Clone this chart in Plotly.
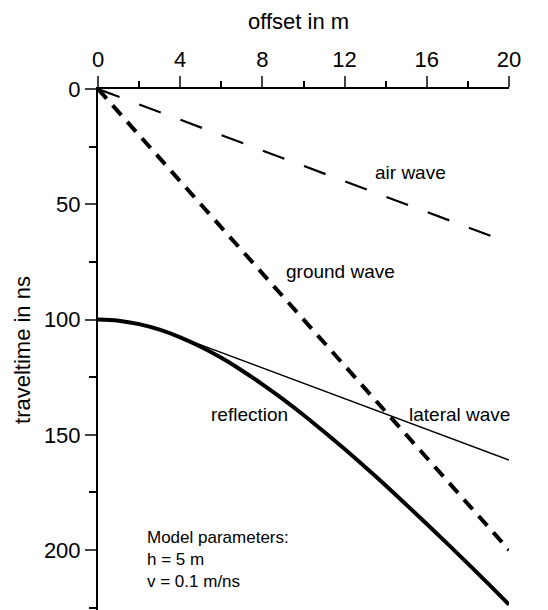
import plotly.graph_objects as go

# Data
air_x = [0, 20]
air_t = [0, 66.7]
ground_x = [0, 20]
ground_t = [0, 200]
refl_x = [0, 1, 2, 3, 4, 5, 6, 7, 8, 9, 10, 11, 12, 13, 14, 15, 16, 17, 18, 19, 20]
refl_t = [100, 100.5, 102.0, 104.4, 107.7, 111.8, 116.6, 122.1, 128.1, 134.5, 141.4,
          148.7, 156.2, 164.0, 172.0, 180.3, 188.7, 197.2, 205.9, 214.7, 223.6]
lat_x = [3.5, 20]
lat_t = [106, 161]

x_ticks = [0, 4, 8, 12, 16, 20]
y_ticks = [0, 50, 100, 150, 200]

FONT = "Liberation Sans, Arial, sans-serif"

fig = go.Figure()
fig.add_trace(go.Scatter(x=air_x, y=air_t, mode="lines",
                         line=dict(color="black", width=2.2, dash="23px,21px")))
fig.add_trace(go.Scatter(x=ground_x, y=ground_t, mode="lines",
                         line=dict(color="black", width=4, dash="13px,9px")))
fig.add_trace(go.Scatter(x=lat_x, y=lat_t, mode="lines",
                         line=dict(color="black", width=1.5)))
fig.add_trace(go.Scatter(x=refl_x, y=refl_t, mode="lines", line_shape="spline",
                         line=dict(color="black", width=4)))

ann = [
    ("air wave", 15.2, 36.3),
    ("ground wave", 11.8, 79),
    ("reflection", 7.35, 141),
    ("lateral wave", 17.6, 141),
]
for txt, x, y in ann:
    fig.add_annotation(x=x, y=y, text=txt, showarrow=False,
                       font=dict(family=FONT, size=19, color="black"))
fig.add_annotation(x=2.3, y=204, text="Model parameters:<br>h = 5 m<br>v = 0.1 m/ns",
                   showarrow=False, xanchor="left", yanchor="middle", align="left",
                   font=dict(family=FONT, size=17, color="black"))

# axis titles
fig.add_annotation(xref="paper", yref="paper", x=0.489, y=1.1286, text="offset in m",
                   showarrow=False, xanchor="center", yanchor="middle",
                   font=dict(family=FONT, size=22, color="black"))
fig.add_annotation(xref="paper", yref="paper", x=-0.185, y=0.499, text="traveltime in ns",
                   showarrow=False, xanchor="center", yanchor="middle", textangle=-90,
                   font=dict(family=FONT, size=22, color="black"))

fig.update_layout(
    width=548, height=610,
    margin=dict(l=90, r=47, t=81, b=8, autoexpand=False),
    paper_bgcolor="white", plot_bgcolor="white",
    showlegend=False,
    font=dict(family=FONT, size=22, color="black"),
    xaxis=dict(range=[0, 20], side="top", tickvals=x_ticks, ticks="outside", ticklen=11,
               tickwidth=2, linecolor="black", linewidth=2, showline=True, showgrid=False,
               zeroline=False, automargin=False,
               minor=dict(tickvals=[2, 6, 10, 14, 18], ticks="outside", ticklen=6,
                          tickwidth=2, tickcolor="black"),
               tickfont=dict(size=22)),
    yaxis=dict(range=[226, 0], tickvals=y_ticks, ticks="outside", ticklen=11, tickwidth=2,
               linecolor="black", linewidth=2, showline=True, showgrid=False,
               zeroline=False, automargin=False,
               minor=dict(tickvals=[25, 75, 125, 175, 225], ticks="outside", ticklen=7,
                          tickwidth=2, tickcolor="black"),
               tickfont=dict(size=22)),
)

fig.write_html("out.html")
